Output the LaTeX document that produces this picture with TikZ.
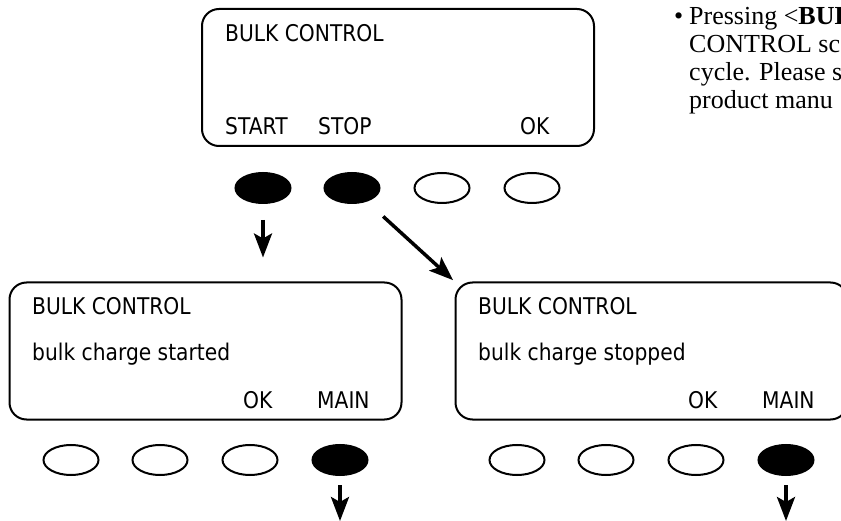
\documentclass[tikz,border=0pt]{standalone}
\usepackage{fontspec}
\setmainfont{Liberation Serif}
\newfontfamily\lcdfont[FakeStretch=0.88]{DejaVu Sans}
\usepackage{tikz}
\usetikzlibrary{shapes.geometric,arrows.meta,positioning}

\begin{document}
\begin{tikzpicture}[x=1pt, y=-1pt, >={Stealth[length=24pt,width=18pt,inset=5pt]}, panel/.style={draw, line width=2pt, rounded corners=17pt, minimum width=392pt, minimum height=137pt, inner sep=0pt}, key/.style={draw, ellipse, line width=2pt, minimum width=55pt, minimum height=30pt, inner sep=0pt}, pressed/.style={key, fill=black}, lcd/.style={anchor=base west, inner sep=0pt, font=\lcdfont\fontsize{23}{27}\selectfont}, note/.style={anchor=base west, inner sep=0pt, font=\fontsize{26}{28}\selectfont}, arr/.style={->, line width=3.5pt}]
\useasboundingbox (0,0) rectangle (841,521);
\clip (0,0) rectangle (841,521);
% screens
\node[panel] (ptop) at (398,77.5) {};
\node[panel] (pleft) at (205.5,351) {};
\node[panel] (pright) at (651.5,351) {};
\node[lcd] (ttitle) at (225,42) {BULK CONTROL};
\node[lcd] (tstart) at (225,135) {START};
\node[lcd] (tstop) at (318,135) {STOP};
\node[lcd] (tok) at (520,135) {OK};
\node[lcd] (ltitle) at (32,315) {BULK CONTROL};
\node[lcd] (lmsg) at (32,361) {bulk charge started};
\node[lcd] (lok) at (243,408) {OK};
\node[lcd] (lmain) at (317,408) {MAIN};
\node[lcd] (rtitle) at (478,315) {BULK CONTROL};
\node[lcd] (rmsg) at (478,361) {bulk charge stopped};
\node[lcd] (rok) at (688,408) {OK};
\node[lcd] (rmain) at (762,408) {MAIN};
% buttons
\node[pressed] (bstart) at (263,188) {};
\node[pressed] (bstop) at (352,188) {};
\node[key] (bthree) at (442,188) {};
\node[key] (bok) at (532,188) {};
\node[key] (lone) at (71,460) {};
\node[key] (ltwo) at (160,460) {};
\node[key] (lthree) at (250,460) {};
\node[pressed] (lmainkey) at (340,460) {};
\node[key] (rone) at (517,460) {};
\node[key] (rtwo) at (606,460) {};
\node[key] (rthree) at (696,460) {};
\node[pressed] (rmainkey) at (786,460) {};
\coordinate[below=45pt of lmainkey] (lout);
\coordinate[below=45pt of rmainkey] (rout);
% note text
\node[note] (nline1) at (689,25) {\llap{\textbullet\hspace{6pt}}Pressing <\textbf{BUL}};
\node[note] (nline2) at (689,53) {CONTROL sc};
\node[note] (nline3) at (689,81) {cycle. Please se};
\node[note] (nline4) at (689,109) {product manu};
% arrows
\draw[arr, shorten <=16pt, shorten >=24pt] (bstart) -- (bstart |- pleft.north);
\draw[arr, shorten <=22pt, shorten >=2pt] (bstop) -- (pright.north west);
\draw[arr, shorten <=9pt] (lmainkey) -- (lout);
\draw[arr, shorten <=9pt] (rmainkey) -- (rout);
\end{tikzpicture}
\end{document}
